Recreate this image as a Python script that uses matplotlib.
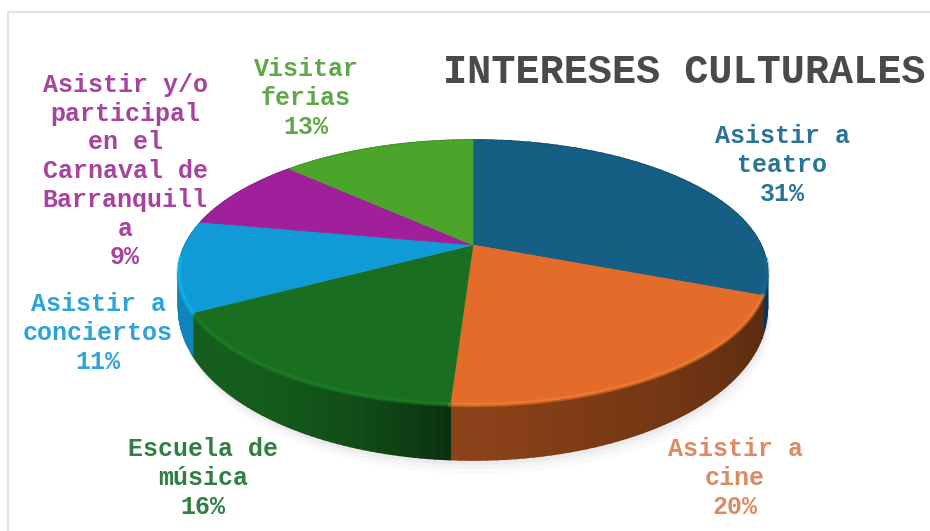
import numpy as np
import matplotlib
matplotlib.use("Agg")
import matplotlib.pyplot as plt
from matplotlib.colors import to_rgb

categories = ["Asistir a\nteatro", "Asistir a\ncine", "Escuela de\nmúsica", "Asistir a\nconciertos",
              "Asistir y/o\nparticipal\nen el\nCarnaval de\nBarranquill\na", "Visitar\nferias"]
values = [31, 20, 16, 11, 9, 13]

top_colors = ["#155f85", "#e46c2a", "#1a6e20", "#119bd6", "#a01f9a", "#4aa52a"]
side_colors = ["#0d3450", "#6a3212", "#145a1c", "#0f84bd", "#7a1575", "#357a20"]
text_colors = ["#2a7396", "#dd8a62", "#2f7f42", "#2ea3da", "#a8429f", "#5fa848"]

plt.rcParams["font.family"] = ["Liberation Mono", "DejaVu Sans Mono"]

fig = plt.figure(figsize=(9.3, 5.31), dpi=100)
ax = fig.add_axes([0, 0, 1, 1])
ax.set_xlim(0, 930)
ax.set_ylim(531, 0)
ax.axis("off")


# circle -> screen, a small perspective so the front of the pie looks bigger
def project(t):
    u, v = np.cos(t), np.sin(t)
    w = 1 + 0.2076 * v
    return 473 + 288 * u / w, 245 - 126.8 * v / w


def depth(t):
    return 30 - 25 * np.sin(t)


# chart frame
ax.plot([8, 8, 930], [531, 12, 12], color="#e2e2e2", lw=1.5)

fracs = np.cumsum([0] + values) / sum(values)
angles = np.pi / 2 - 2 * np.pi * fracs

# soft shadow under the pie
tt = np.linspace(0, 2 * np.pi, 300)
sx, sy = project(tt)
for grow, alpha in [(14, 0.04), (9, 0.05), (5, 0.08)]:
    ax.fill(sx + grow * 0.3, sy + depth(tt) + grow, color="#8a8a9a", alpha=alpha, lw=0)

# side wall, back to front
for i in range(len(values)):
    tt = np.linspace(angles[i], angles[i + 1], 50)
    x, y = project(tt)
    d = depth(tt)
    base = np.array(to_rgb(side_colors[i]))
    for j in range(len(tt) - 1):
        # darker towards the right of the orange and green walls
        shade = 1.0
        if i == 1:
            shade = 0.85 + 0.5 * (j / len(tt))
        if i == 2:
            shade = 1.05 - 0.5 * (1 - j / len(tt)) ** 3
        ax.fill([x[j], x[j + 1], x[j + 1], x[j]],
                [y[j], y[j + 1], y[j + 1] + d[j + 1], y[j] + d[j]],
                color=np.clip(base * shade, 0, 1), lw=1.2, zorder=2)

# top faces
for i in range(len(values)):
    tt = np.linspace(angles[i], angles[i + 1], 120)
    x, y = project(tt)
    ax.fill(np.r_[473, x], np.r_[245, y], color=top_colors[i], lw=0.5, zorder=3)
    # rim highlight on the front edge
    front = np.sin(tt) < -0.1
    rim = np.clip(np.array(to_rgb(top_colors[i])) * 1.25, 0, 1)
    ax.plot(x[front], y[front], color=rim, lw=3, alpha=0.45, zorder=4)

# labels
label_pos = [(782, 165), (735, 478), (203, 478), (98, 333), (125, 171), (306, 98)]
for i in range(len(values)):
    ax.text(label_pos[i][0], label_pos[i][1], f"{categories[i]}\n{values[i]}%",
            color=text_colors[i], fontsize=18, fontweight="bold",
            ha="center", va="center", ma="center", linespacing=1.25, zorder=5)

ax.text(684, 72, "INTERESES CULTURALES", color="#4a4a4a", fontsize=29,
        fontweight="bold", ha="center", va="center")

fig.savefig("out.png", dpi=100)
